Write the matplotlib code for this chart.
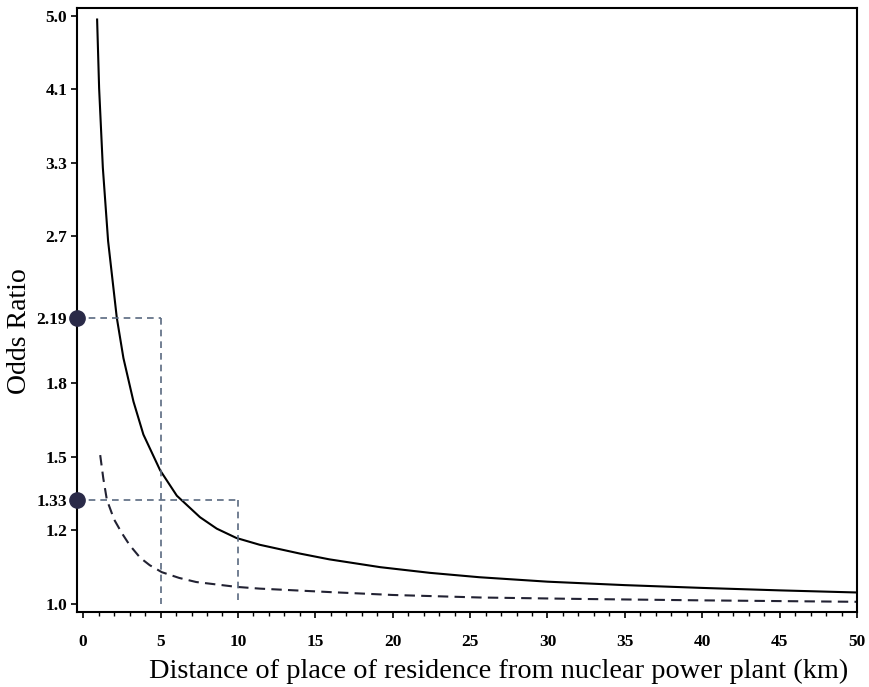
import matplotlib
matplotlib.use("Agg")
import matplotlib.pyplot as plt
from matplotlib.ticker import FixedLocator, NullLocator, MultipleLocator

plt.rcParams['font.family'] = ['Liberation Serif', 'DejaVu Serif']

# solid curve
solid_km = [0.9, 1.03, 1.27, 1.61, 2.17, 2.6, 3.25, 3.89, 4.97, 6.05, 7.55, 8.63, 9.9,
            11.4, 14.0, 15.9, 19.2, 22.4, 25.6, 30.0, 35.0, 40.0, 45.0, 50.0]
solid_or = [4.95, 4.1, 3.3, 2.7, 2.19, 1.96, 1.74, 1.59, 1.442, 1.345, 1.268, 1.229, 1.198,
            1.176, 1.148, 1.13, 1.106, 1.089, 1.076, 1.063, 1.053, 1.045, 1.038, 1.032]

# dashed curve
dash_km = [1.1, 1.3, 1.53, 2.0, 2.5, 3.0, 3.68, 4.3, 5.08, 6.2, 7.3, 9.9, 11.4, 16.0,
           20.0, 25.6, 32.0, 40.0, 50.0]
dash_or = [1.503, 1.41, 1.33, 1.26, 1.214, 1.175, 1.135, 1.112, 1.091, 1.074, 1.062, 1.048, 1.043,
           1.033, 1.025, 1.018, 1.014, 1.010, 1.006]

# reference markers
ref_km = [5, 10]
ref_or = [2.19, 1.33]

yticks = [1.0, 5 ** (1 / 8), 5 ** (2 / 8), 5 ** (3 / 8), 5 ** (5 / 8), 5 ** (6 / 8), 5 ** (7 / 8), 5.0]
ylabels = ["1.0", "1.2", "1.5", "1.8", "2.7", "3.3", "4.1", "5.0"]

fig = plt.figure(figsize=(8.69, 6.87), dpi=100)
ax = fig.add_axes([0.0886, 0.1092, 0.8976, 0.8792])
ax.set_yscale('log')
ax.set_xlim(-0.4, 50)
ax.set_ylim(0.9784, 5.109)

ax.plot(solid_km, solid_or, color='black', lw=1.5, solid_joinstyle='round')
ax.plot(dash_km, dash_or, color='#222233', lw=1.5, ls=(0, (5, 3)))

xmin = ax.get_xlim()[0]
for k, v in zip(ref_km, ref_or):
    ax.plot([xmin, k], [v, v], color='#5a6a80', lw=1.2, ls=(0, (4, 3)))
    ax.plot([k, k], [v, 1.0], color='#5a6a80', lw=1.2, ls=(0, (4, 3)))
    ax.plot([xmin], [v], 'o', ms=11, color='#2a2a48', clip_on=False, zorder=5)

ax.yaxis.set_major_locator(FixedLocator(yticks + ref_or))
ax.yaxis.set_minor_locator(NullLocator())
ax.set_yticklabels(ylabels + ["2.19", "1.33"])
ax.xaxis.set_major_locator(MultipleLocator(5))
ax.xaxis.set_minor_locator(MultipleLocator(1))
ax.set_xticklabels([str(int(t)) for t in ax.get_xticks()])

ax.tick_params(axis='both', which='major', direction='out', length=4, width=1.2,
               labelsize=12.5, pad=3)
ax.tick_params(axis='x', which='minor', direction='out', length=3, width=1)
ax.tick_params(axis='x', which='major', pad=12)
for lab in ax.get_xticklabels() + ax.get_yticklabels():
    lab.set_fontweight('bold')
for s in ax.spines.values():
    s.set_linewidth(1.5)

ax.set_ylabel("Odds Ratio", fontsize=20)
ax.set_xlabel("Distance of place of residence from nuclear power plant (km)", fontsize=20.4)
ax.yaxis.set_label_coords(-0.058, 0.465)
ax.xaxis.set_label_coords(0.541, -0.077)

fig.savefig("out.png", dpi=100)
